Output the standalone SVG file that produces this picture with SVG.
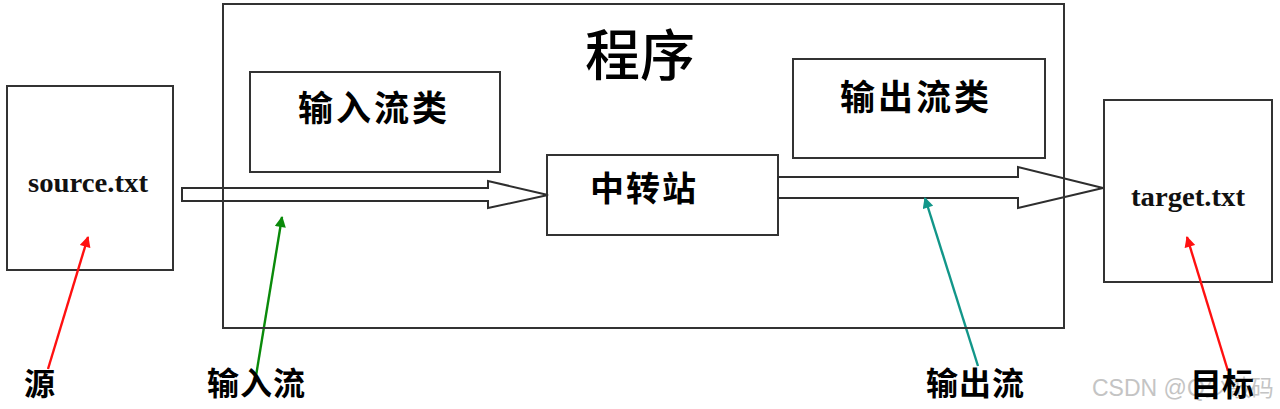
<svg xmlns="http://www.w3.org/2000/svg" width="1280" height="409" viewBox="0 0 1280 409">
  <style>
    .box { fill: #ffffff; stroke: #333333; stroke-width: 2; }
    .frame { fill: none; stroke: #333333; stroke-width: 2; }
    .block { fill: #ffffff; stroke: #2e2e2e; stroke-width: 2; stroke-linejoin: miter; }
    .cjk { font-family: "Noto Sans CJK SC", "Noto Sans", sans-serif; font-weight: bold; fill: #000000; }
    .file { font-family: "Liberation Serif", "DejaVu Serif", serif; font-weight: bold; fill: #111111; }
    .ptr { fill: none; stroke-width: 2.4; }
    .wm { font-family: "Liberation Sans", "Noto Sans CJK SC", sans-serif; fill: #c4c4c4; }
  </style>
  <defs>
    <marker id="headRed" viewBox="0 0 10 10" refX="9" refY="5" markerWidth="12" markerHeight="11" markerUnits="userSpaceOnUse" orient="auto">
      <path d="M0,0 L10,5 L0,10 Z" fill="#ff1010"/>
    </marker>
    <marker id="headGreen" viewBox="0 0 10 10" refX="9" refY="5" markerWidth="12" markerHeight="11" markerUnits="userSpaceOnUse" orient="auto">
      <path d="M0,0 L10,5 L0,10 Z" fill="#0a8a0a"/>
    </marker>
    <marker id="headTeal" viewBox="0 0 10 10" refX="9" refY="5" markerWidth="12" markerHeight="11" markerUnits="userSpaceOnUse" orient="auto">
      <path d="M0,0 L10,5 L0,10 Z" fill="#129689"/>
    </marker>
  </defs>

  <rect width="1280" height="409" fill="#ffffff"/>

  <g id="source">
    <rect class="box" x="7" y="86" width="166" height="184"/>
    <text class="file" x="28" y="192" font-size="28" textLength="120" lengthAdjust="spacingAndGlyphs">source.txt</text>
  </g>

  <g id="target">
    <rect class="box" x="1104" y="100" width="168" height="182"/>
    <text class="file" x="1131" y="206" font-size="28" textLength="114" lengthAdjust="spacingAndGlyphs">target.txt</text>
  </g>

  <g id="input-class">
    <rect class="box" x="250" y="72" width="250" height="100"/>
    <text class="cjk" x="298" y="121" font-size="35" letter-spacing="3">输入流类</text>
  </g>

  <g id="output-class">
    <rect class="box" x="793" y="59" width="252" height="99"/>
    <text class="cjk" x="840" y="110" font-size="35" letter-spacing="3">输出流类</text>
  </g>

  <g id="relay">
    <rect class="box" x="547" y="155" width="231" height="80"/>
    <text class="cjk" x="590" y="201" font-size="34" letter-spacing="2">中转站</text>
  </g>

  <g id="connectors">
    <polygon class="block" points="182,188 488,188 488,181 548,195 488,208 488,201 182,201"/>
    <polygon class="block" points="778,177 1018,177 1018,167 1103,188 1018,208 1018,198 778,198"/>
    <line class="ptr" x1="48" y1="369" x2="88" y2="237" stroke="#ff1010" marker-end="url(#headRed)"/>
    <line class="ptr" x1="255" y1="382" x2="282" y2="217" stroke="#0a8a0a" marker-end="url(#headGreen)"/>
    <line class="ptr" x1="978" y1="366" x2="925" y2="198" stroke="#129689" marker-end="url(#headTeal)"/>
    <line class="ptr" x1="1228" y1="371" x2="1187" y2="237" stroke="#ff1010" marker-end="url(#headRed)"/>
  </g>

  <g id="program">
    <rect class="frame" x="223" y="4" width="841" height="324"/>
    <text x="640" y="75" font-size="55" text-anchor="middle" font-family="Noto Sans CJK SC, sans-serif" font-weight="500" fill="#000">程序</text>
  </g>

  <text class="wm" x="1092" y="396" font-size="23">CSDN @Q少敲码</text>

  <g id="labels">
    <text class="cjk" x="24" y="395" font-size="31">源</text>
    <text class="cjk" x="207" y="395" font-size="32" letter-spacing="1">输入流</text>
    <text class="cjk" x="926" y="395" font-size="32" letter-spacing="1">输出流</text>
    <text class="cjk" x="1190" y="396" font-size="32">目标</text>
  </g>
</svg>
